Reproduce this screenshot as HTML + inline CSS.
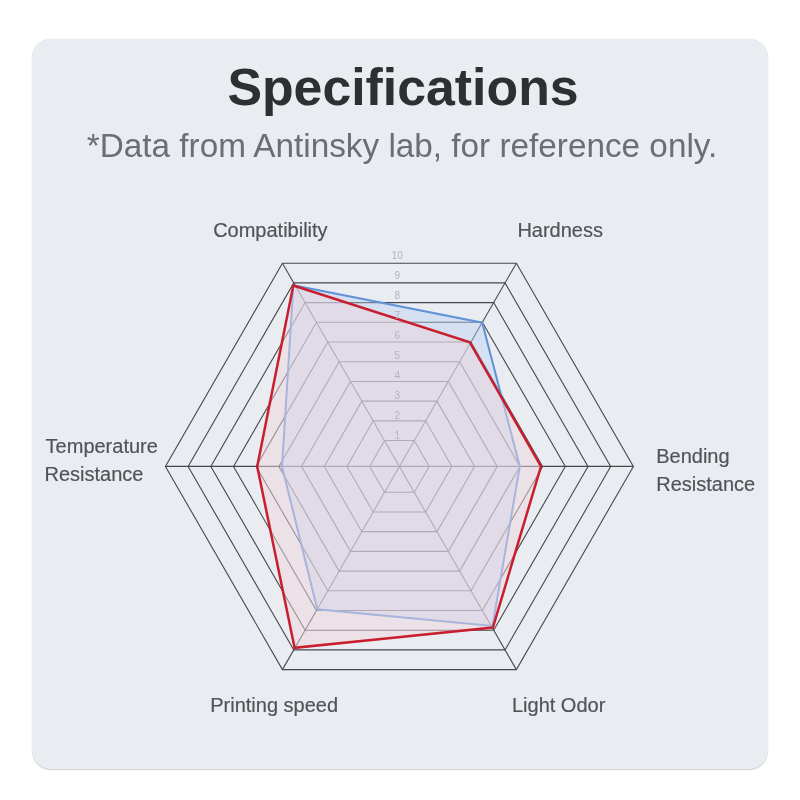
<!DOCTYPE html>
<html><head><meta charset="utf-8"><style>
html,body{margin:0;padding:0;background:#fff;width:800px;height:800px;overflow:hidden}
.card{position:absolute;left:32px;top:38.5px;width:735.6px;height:730.5px;background:#e9ecf0;border-radius:19px;box-shadow:0 0.8px 1.2px rgba(0,0,0,0.2)}
.t{position:absolute;left:3px;width:800px;text-align:center;font-family:"Liberation Sans",sans-serif;white-space:nowrap;will-change:transform}
svg{position:absolute;left:0;top:0;will-change:transform}
</style></head><body>
<div class="card"></div>
<div class="t" style="top:56.5px;font-size:51.8px;font-weight:bold;color:#2e2f31;line-height:60px">Specifications</div>
<div class="t" style="top:126px;left:2px;font-size:33.3px;color:#6b6e72;line-height:40px">*Data from Antinsky lab, for reference only.</div>
<svg width="800" height="800" viewBox="0 0 800 800">
<g fill="none" stroke="#46484c" stroke-width="1.1">
<polygon points="384.52,440.56 414.27,440.56 429.15,466.40 414.27,492.24 384.52,492.24 369.65,466.40"/>
<polygon points="373.18,420.85 425.62,420.85 451.84,466.40 425.62,511.95 373.18,511.95 346.96,466.40"/>
<polygon points="361.83,401.14 436.96,401.14 474.53,466.40 436.96,531.66 361.83,531.66 324.27,466.40"/>
<polygon points="350.49,381.43 448.31,381.43 497.22,466.40 448.31,551.37 350.49,551.37 301.58,466.40"/>
<polygon points="339.14,361.72 459.65,361.72 519.91,466.40 459.65,571.08 339.14,571.08 278.89,466.40"/>
<polygon points="327.80,342.01 471.00,342.01 542.60,466.40 471.00,590.79 327.80,590.79 256.20,466.40"/>
<polygon points="316.46,322.30 482.35,322.30 565.29,466.40 482.35,610.50 316.46,610.50 233.51,466.40"/>
<polygon points="305.11,302.59 493.69,302.59 587.98,466.40 493.69,630.21 305.11,630.21 210.82,466.40"/>
<polygon points="293.76,282.89 505.04,282.89 610.67,466.40 505.04,649.91 293.76,649.91 188.13,466.40"/>
<polygon points="282.42,263.18 516.38,263.18 633.36,466.40 516.38,669.62 282.42,669.62 165.44,466.40"/>
<line x1="399.40" y1="466.40" x2="282.42" y2="263.18"/>
<line x1="399.40" y1="466.40" x2="516.38" y2="263.18"/>
<line x1="399.40" y1="466.40" x2="633.36" y2="466.40"/>
<line x1="399.40" y1="466.40" x2="516.38" y2="669.62"/>
<line x1="399.40" y1="466.40" x2="282.42" y2="669.62"/>
<line x1="399.40" y1="466.40" x2="165.44" y2="466.40"/>
</g>
<polygon points="293.40,285.20 482.20,322.70 519.80,466.40 492.50,626.00 317.30,609.30 282.00,466.40" fill="rgba(183,211,245,0.4)" stroke="#6092d8" stroke-width="2.0" stroke-linejoin="miter"/>
<polygon points="293.30,285.50 469.90,342.30 541.00,466.40 492.90,627.60 294.60,647.80 257.20,466.40" fill="rgba(237,214,222,0.5)" stroke="#c81e2e" stroke-width="2.5" stroke-linejoin="miter"/>
<g font-family="'Liberation Sans', sans-serif" font-size="10" fill="#b3b4b8" text-anchor="middle">
<text x="397.2" y="439.20">1</text>
<text x="397.2" y="419.20">2</text>
<text x="397.2" y="399.20">3</text>
<text x="397.2" y="379.20">4</text>
<text x="397.2" y="359.20">5</text>
<text x="397.2" y="339.20">6</text>
<text x="397.2" y="319.20">7</text>
<text x="397.2" y="299.20">8</text>
<text x="397.2" y="279.20">9</text>
<text x="397.2" y="259.20">10</text>
</g>
<g font-family="'Liberation Sans', sans-serif" font-size="20" fill="#505357" stroke="#505357" stroke-width="0.18">
<text x="213.15" y="236.8">Compatibility</text>
<text x="517.4" y="236.8">Hardness</text>
<text x="45.6" y="453.2">Temperature</text>
<text x="44.5" y="481.2">Resistance</text>
<text x="656.2" y="463.2">Bending</text>
<text x="656.3" y="491">Resistance</text>
<text x="210.25" y="712">Printing speed</text>
<text x="511.95" y="712.4">Light Odor</text>
</g>
</svg>
</body></html>
